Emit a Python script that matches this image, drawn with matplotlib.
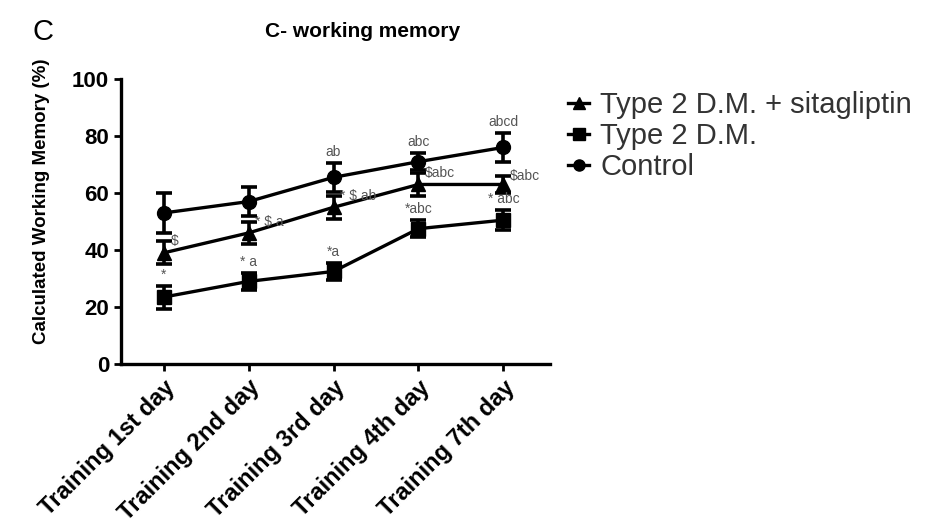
import matplotlib.pyplot as plt
from matplotlib.lines import Line2D
import numpy as np

plt.rcParams['font.family'] = ['Liberation Sans', 'DejaVu Sans']

days = ['Training 1st day', 'Training 2nd day', 'Training 3rd day',
        'Training 4th day', 'Training 7th day']

# mean and error
sita_mean = [39, 46, 55, 63, 63]
sita_err = [4, 4, 4, 4, 3]
dm_mean = [23.5, 29, 32.5, 47.5, 50.5]
dm_err = [4, 3, 3, 3, 3.5]
ctrl_mean = [53, 57, 65.5, 71, 76]
ctrl_err = [7, 5, 5, 3, 5]

# significance letters
ctrl_notes = ['', '', 'ab', 'abc', 'abcd']
sita_notes = ['$', '* $ a', '* $ ab', '$abc', '$abc']
dm_notes = ['*', '* a', '*a', '*abc', '* abc']

names = ['Type 2 D.M. + sitagliptin', 'Type 2 D.M.', 'Control']
markers = ['^', 's', 'o']

x = np.arange(len(days))

fig = plt.figure(figsize=(9.31, 5.30), dpi=100)
ax = fig.add_axes([0.130, 0.313, 0.461, 0.538])

for mean, err, mk in zip([sita_mean, dm_mean, ctrl_mean],
                         [sita_err, dm_err, ctrl_err], markers):
    ax.errorbar(x, mean, yerr=err, color='black', marker=mk, markersize=10,
                lw=2.4, capsize=6, capthick=2.6, elinewidth=2.6)

for i in range(len(x)):
    if ctrl_notes[i]:
        ax.text(x[i], ctrl_mean[i] + ctrl_err[i] + 1.5, ctrl_notes[i], ha='center',
                va='bottom', fontsize=10, color='#555555')
    ax.text(x[i] + 0.08, sita_mean[i] + sita_err[i], sita_notes[i], ha='left',
            va='center', fontsize=10, color='#555555')
    ax.text(x[i], dm_mean[i] + dm_err[i] + 1.5, dm_notes[i], ha='center',
            va='bottom', fontsize=10, color='#555555')

ax.set_xlim(-0.5, 4.55)
ax.set_ylim(0, 100)
ax.set_yticks([0, 20, 40, 60, 80, 100])
ax.set_xticks(x)
ax.set_xticklabels(days, rotation=45, ha='right', rotation_mode='anchor')
for lab in ax.get_yticklabels():
    lab.set_fontweight('bold')
    lab.set_fontsize(16)
for lab in ax.get_xticklabels():
    lab.set_fontweight('bold')
    lab.set_fontsize(17)
ax.tick_params(width=2, length=5, direction='out')
ax.spines['top'].set_visible(False)
ax.spines['right'].set_visible(False)
ax.spines['left'].set_linewidth(2.4)
ax.spines['bottom'].set_linewidth(2.4)
ax.set_ylabel('Calculated Working Memory (%)', fontsize=13.5, fontweight='bold')
ax.yaxis.set_label_coords(-0.165, 0.57)

fig.text(0.389, 0.94, 'C- working memory', fontsize=15, fontweight='bold',
         ha='center', va='center')
fig.text(0.035, 0.94, 'C', fontsize=21, va='center')

handles = [Line2D([], [], color='black', marker=m, markersize=8, lw=2.4) for m in markers]
fig.legend(handles, names, loc='upper left', bbox_to_anchor=(0.598, 0.85),
           frameon=False, fontsize=21, handlelength=0.7, handletextpad=0.4,
           labelspacing=0.1, labelcolor='#333333', borderaxespad=0)

fig.savefig('out.png', dpi=100)
